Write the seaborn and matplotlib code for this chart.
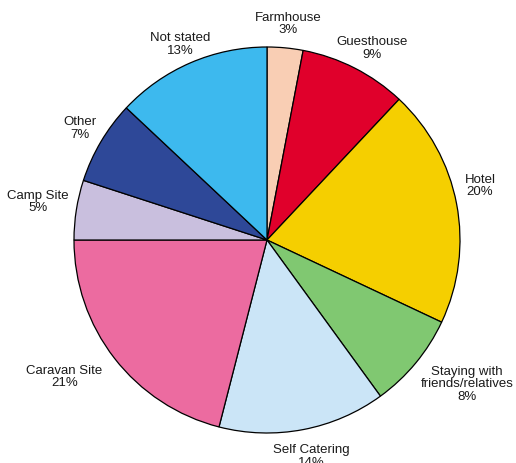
import numpy as np
import matplotlib
matplotlib.use("Agg")
import matplotlib.pyplot as plt
import seaborn as sns

categories = ["Farmhouse", "Guesthouse", "Hotel", "Staying with\nfriends/relatives",
              "Self Catering", "Caravan Site", "Camp Site", "Other", "Not stated"]
shares = [3, 9, 20, 8, 14, 21, 5, 7, 13]
colors = ["#F9CEB4", "#E0002B", "#F5CF00", "#80C871", "#CBE5F7",
          "#EC6BA0", "#C9BFDE", "#2E4898", "#3DB9EE"]
# label placement: radial distance (multiple of radius) and angular nudge (degrees)
label_dist = [1.125, 1.133, 1.139, 1.277, 1.145, 1.267, 1.203, 1.13, 1.108]
label_nudge = [-0.3, -1.8, 3.4, 3.8, 0.8, -3.7, -0.4, -0.2, 0.5]

sns.set_theme(style="white")
plt.rcParams["font.family"] = ["Liberation Sans", "DejaVu Sans"]

fig = plt.figure(figsize=(5.16, 4.63), dpi=100)
ax = fig.add_axes([0, 0, 1, 1])

cx, cy, r = 267, 223, 193
wedges, _ = ax.pie(shares, colors=colors, startangle=90, counterclock=False,
                   center=(cx, cy), radius=r,
                   wedgeprops=dict(edgecolor="black", linewidth=0.9))
ax.set_xlim(0, 516)
ax.set_ylim(0, 463)
ax.set_aspect("equal")
ax.axis("off")

for w, name, val, d, nudge in zip(wedges, categories, shares, label_dist, label_nudge):
    mid = np.deg2rad((w.theta1 + w.theta2) / 2 + nudge)
    x = cx + d * r * np.cos(mid)
    y = cy + d * r * np.sin(mid)
    ax.text(x, y, f"{name}\n{val}%", ha="center", va="center",
            fontsize=9.5, linespacing=1.05, color="#1a1a1a")

fig.savefig("out.png", dpi=100)
